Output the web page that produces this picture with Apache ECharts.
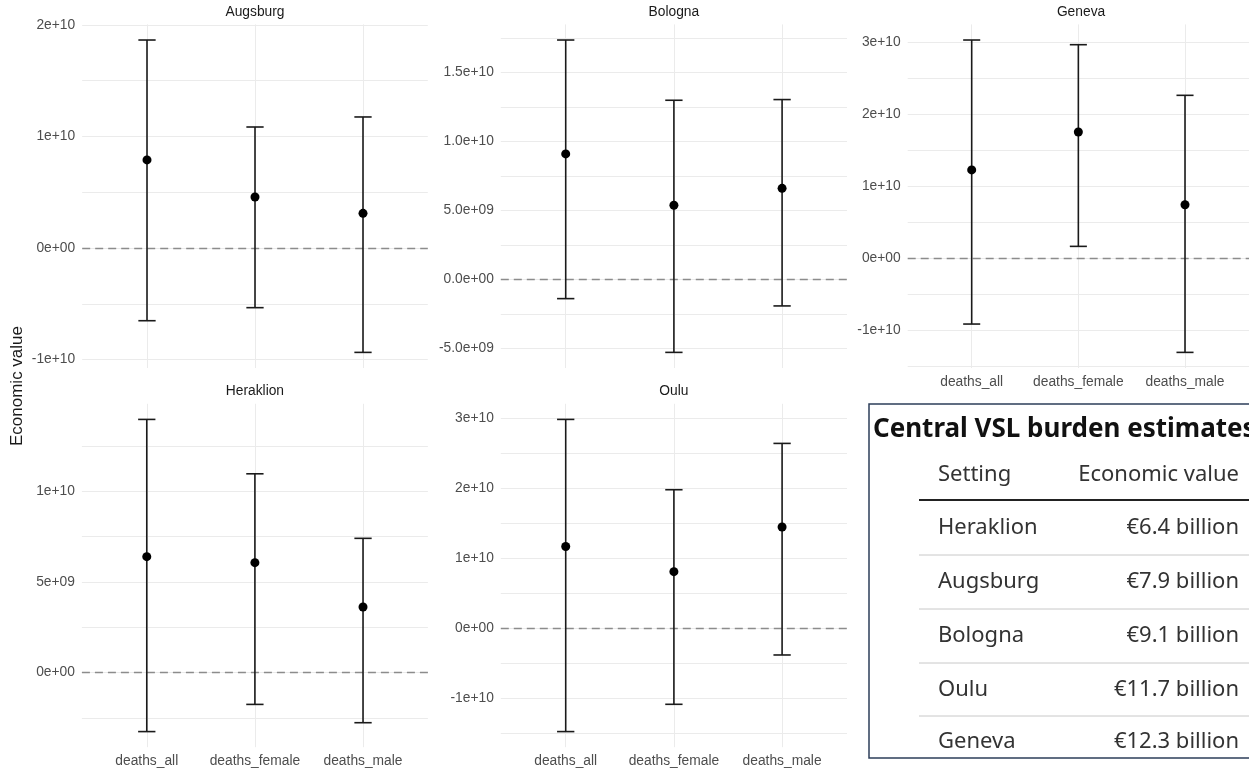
<!DOCTYPE html>
<html><head><meta charset="utf-8">
<script src="https://cdn.jsdelivr.net/npm/echarts@6/dist/echarts.min.js"></script>
<style>html,body{margin:0;padding:0;background:#fff}#c{width:1249px;height:769px}</style>
</head><body><div id="c"></div>
<script>
// ---------------- DATA ----------------
const categories = ['deaths_all', 'deaths_female', 'deaths_male'];
const cities = ['Augsburg', 'Bologna', 'Geneva', 'Heraklion', 'Oulu'];

const augsburgCentral = [7.9e9, 4.57e9, 3.11e9];
const augsburgLower   = [-6.52e9, -5.35e9, -9.36e9];
const augsburgUpper   = [1.865e10, 1.085e10, 1.175e10];

const bolognaCentral = [9.1e9, 5.37e9, 6.6e9];
const bolognaLower   = [-1.4e9, -5.3e9, -1.93e9];
const bolognaUpper   = [1.736e10, 1.299e10, 1.304e10];

const genevaCentral = [1.23e10, 1.757e10, 7.46e9];
const genevaLower   = [-9.13e9, 1.67e9, -1.307e10];
const genevaUpper   = [3.036e10, 2.971e10, 2.267e10];

const heraklionCentral = [6.4e9, 6.07e9, 3.62e9];
const heraklionLower   = [-3.25e9, -1.75e9, -2.76e9];
const heraklionUpper   = [1.397e10, 1.097e10, 7.41e9];

const ouluCentral = [1.17e10, 8.1e9, 1.448e10];
const ouluLower   = [-1.476e10, -1.086e10, -3.81e9];
const ouluUpper   = [2.986e10, 1.981e10, 2.643e10];

const augsburgTicks = [-1e10, 0, 1e10, 2e10];
const augsburgTickLabels = ['-1e+10', '0e+00', '1e+10', '2e+10'];
const bolognaTicks = [-5e9, 0, 5e9, 1e10, 1.5e10];
const bolognaTickLabels = ['-5.0e+09', '0.0e+00', '5.0e+09', '1.0e+10', '1.5e+10'];
const genevaTicks = [-1e10, 0, 1e10, 2e10, 3e10];
const genevaTickLabels = ['-1e+10', '0e+00', '1e+10', '2e+10', '3e+10'];
const heraklionTicks = [0, 5e9, 1e10];
const heraklionTickLabels = ['0e+00', '5e+09', '1e+10'];
const ouluTicks = [-1e10, 0, 1e10, 2e10, 3e10];
const ouluTickLabels = ['-1e+10', '0e+00', '1e+10', '2e+10', '3e+10'];

const tableTitle = 'Central VSL burden estimates';
const tableHeaders = ['Setting', 'Economic value'];
const tableSettings = ['Heraklion', 'Augsburg', 'Bologna', 'Oulu', 'Geneva'];
const tableValues = ['€6.4 billion', '€7.9 billion', '€9.1 billion', '€11.7 billion', '€12.3 billion'];

const yAxisTitle = 'Economic value';

// ---------------- LAYOUT ----------------
const panels = [
  {central: augsburgCentral, lower: augsburgLower, upper: augsburgUpper, ticks: augsburgTicks, labels: augsburgTickLabels},
  {central: bolognaCentral, lower: bolognaLower, upper: bolognaUpper, ticks: bolognaTicks, labels: bolognaTickLabels},
  {central: genevaCentral, lower: genevaLower, upper: genevaUpper, ticks: genevaTicks, labels: genevaTickLabels},
  {central: heraklionCentral, lower: heraklionLower, upper: heraklionUpper, ticks: heraklionTicks, labels: heraklionTickLabels},
  {central: ouluCentral, lower: ouluLower, upper: ouluUpper, ticks: ouluTicks, labels: ouluTickLabels}
];
const layout = [
  {left: 82.2, top: 24.4, width: 345.6, height: 343.6, xLabels: false},
  {left: 500.8, top: 24.4, width: 346.2, height: 343.6, xLabels: false},
  {left: 907.7, top: 24.4, width: 346.7, height: 343.6, xLabels: true},
  {left: 81.9, top: 403.8, width: 346.0, height: 343.4, xLabels: true},
  {left: 500.8, top: 403.8, width: 346.2, height: 343.4, xLabels: true}
];

const FONT = '"Liberation Sans", Arial, sans-serif';
const TFONT = '"Noto Sans", "Open Sans", sans-serif';
const GRID_COLOR = '#ebebeb';
const AXIS_TEXT = '#4d4d4d';

const grids = [], xAxes = [], yAxes = [], series = [], graphics = [];

panels.forEach((p, i) => {
  const L = layout[i];
  const lo = Math.min(...p.lower), hi = Math.max(...p.upper);
  const span = hi - lo;
  const ymin = lo - 0.05 * span, ymax = hi + 0.05 * span;
  const step = p.ticks[1] - p.ticks[0];
  const half = step / 2;
  const gridVals = [];
  for (let k = Math.ceil(ymin / half); k * half <= ymax; k++) gridVals.push(k * half);

  grids.push({left: L.left, top: L.top, width: L.width, height: L.height, containLabel: false});
  xAxes.push({
    gridIndex: i, type: 'value', min: -0.6, max: 2.6,
    axisLine: {show: false},
    axisTick: {show: false, customValues: [0, 1, 2]},
    axisLabel: {
      show: L.xLabels, customValues: [0, 1, 2],
      formatter: v => categories[Math.round(v)],
      color: AXIS_TEXT, fontSize: 13.8, fontFamily: FONT, margin: 7
    },
    splitLine: {show: true, lineStyle: {color: GRID_COLOR, width: 1}}
  });
  yAxes.push({
    gridIndex: i, type: 'value', min: ymin, max: ymax,
    axisLine: {show: false},
    axisTick: {show: false, customValues: gridVals},
    axisLabel: {
      customValues: p.ticks,
      formatter: v => {
        const j = p.ticks.findIndex(t => Math.abs(t - v) < step * 1e-3);
        return j >= 0 ? p.labels[j] : '';
      },
      color: AXIS_TEXT, fontSize: 13.8, fontFamily: FONT, margin: 7
    },
    splitLine: {show: true, lineStyle: {color: GRID_COLOR, width: 1}}
  });

  series.push({
    type: 'custom', xAxisIndex: i, yAxisIndex: i,
    data: categories.map((c, j) => [j, p.lower[j], p.upper[j]]),
    encode: {x: 0, y: [1, 2]},
    z: 3,
    renderItem: (params, api) => {
      const x = api.value(0);
      const top = api.coord([x, api.value(2)]);
      const bot = api.coord([x, api.value(1)]);
      const hw = api.size([0.08, 0])[0];
      const st = {stroke: '#1a1a1a', lineWidth: 1.6};
      return {type: 'group', children: [
        {type: 'line', shape: {x1: top[0], y1: top[1], x2: bot[0], y2: bot[1]}, style: st},
        {type: 'line', shape: {x1: top[0] - hw, y1: top[1], x2: top[0] + hw, y2: top[1]}, style: st},
        {type: 'line', shape: {x1: bot[0] - hw, y1: bot[1], x2: bot[0] + hw, y2: bot[1]}, style: st}
      ]};
    },
    markLine: {
      silent: true, symbol: 'none', z: 2,
      label: {show: false},
      lineStyle: {type: [8, 5], color: '#8c8c8c', width: 1.4},
      data: [{yAxis: 0}]
    }
  });
  series.push({
    type: 'scatter', xAxisIndex: i, yAxisIndex: i, z: 4,
    data: p.central.map((v, j) => [j, v]),
    symbol: 'circle', symbolSize: 9,
    itemStyle: {color: '#000', opacity: 1}
  });

  graphics.push({
    type: 'text', x: L.left + L.width / 2, y: L.top - 12.5,
    style: {text: cities[i], fill: '#1a1a1a', font: '13.8px ' + FONT, textAlign: 'center', textVerticalAlign: 'middle'}
  });
});

// y axis title
graphics.push({
  type: 'text', x: 17, y: 386, rotation: Math.PI / 2,
  style: {text: yAxisTitle, fill: '#1a1a1a', font: '17px ' + FONT, textAlign: 'center', textVerticalAlign: 'middle'}
});

// table
const tb = {left: 869, top: 404, right: 1262, bottom: 758};
graphics.push({
  type: 'rect', shape: {x: tb.left, y: tb.top, width: tb.right - tb.left, height: tb.bottom - tb.top},
  style: {fill: '#fff', stroke: '#2c3e5a', lineWidth: 1.5}
});
graphics.push({
  type: 'text', x: 873, y: 430,
  style: {text: tableTitle, fill: '#111', font: 'bold 26px ' + TFONT, textAlign: 'left', textVerticalAlign: 'middle'}
});
const colL = 938, colR = 1239;
const rowFont = '22px ' + TFONT;
graphics.push({type: 'text', x: colL, y: 475, style: {text: tableHeaders[0], fill: '#333', font: rowFont, textAlign: 'left', textVerticalAlign: 'middle'}});
graphics.push({type: 'text', x: colR, y: 475, style: {text: tableHeaders[1], fill: '#333', font: rowFont, textAlign: 'right', textVerticalAlign: 'middle'}});
graphics.push({type: 'line', shape: {x1: 919, y1: 500, x2: 1249, y2: 500}, style: {stroke: '#222', lineWidth: 2}});
const rowY = [528, 582, 636, 690, 742];
tableSettings.forEach((s, k) => {
  graphics.push({type: 'text', x: colL, y: rowY[k], style: {text: s, fill: '#333', font: rowFont, textAlign: 'left', textVerticalAlign: 'middle'}});
  graphics.push({type: 'text', x: colR, y: rowY[k], style: {text: tableValues[k], fill: '#333', font: rowFont, textAlign: 'right', textVerticalAlign: 'middle'}});
  if (k < tableSettings.length - 1) {
    const ly = (rowY[k] + rowY[k + 1]) / 2;
    graphics.push({type: 'line', shape: {x1: 919, y1: ly, x2: 1249, y2: ly}, style: {stroke: '#c8c8c8', lineWidth: 1}});
  }
});

const chart = echarts.init(document.getElementById('c'), null, {renderer: 'canvas'});
chart.setOption({
  animation: false,
  backgroundColor: '#fff',
  grid: grids, xAxis: xAxes, yAxis: yAxes, series: series,
  graphic: graphics
});
</script></body></html>
